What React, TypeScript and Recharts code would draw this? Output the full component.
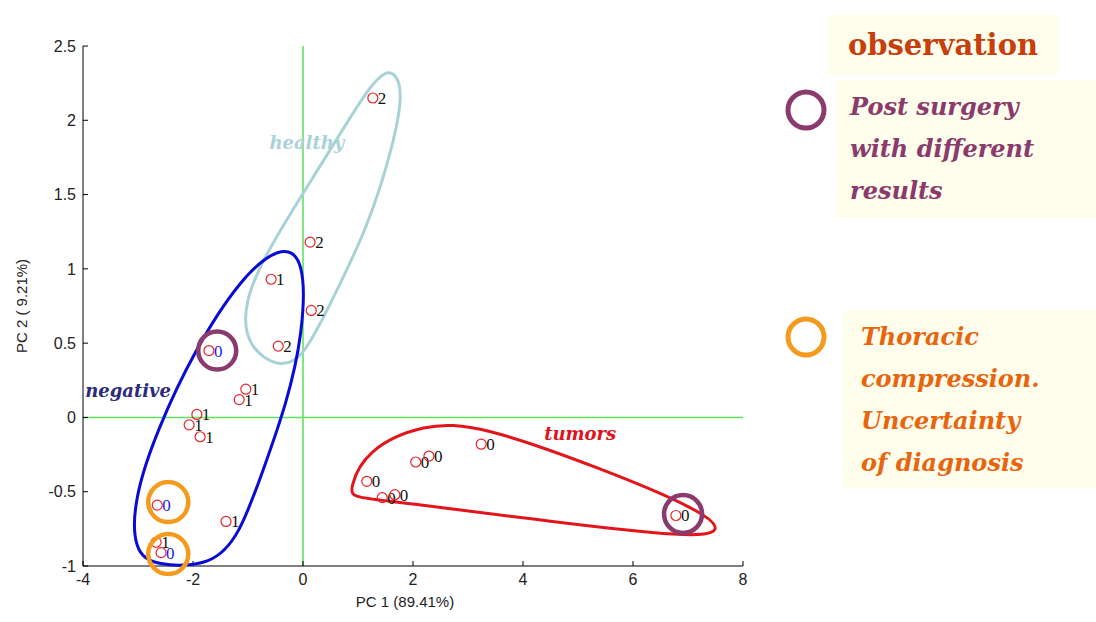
import React from 'react';
import {
  ScatterChart,
  Scatter,
  XAxis,
  YAxis,
  ReferenceLine,
} from 'recharts';

// scores: PC1, PC2, class label
const scores = [
  { x: 1.27, y: 2.15, label: '2', blue: false },
  { x: 0.13, y: 1.18, label: '2', blue: false },
  { x: 0.15, y: 0.72, label: '2', blue: false },
  { x: -0.45, y: 0.48, label: '2', blue: false },
  { x: -0.58, y: 0.93, label: '1', blue: false },
  { x: -1.71, y: 0.45, label: '0', blue: true },
  { x: -1.04, y: 0.19, label: '1', blue: false },
  { x: -1.16, y: 0.12, label: '1', blue: false },
  { x: -1.93, y: 0.02, label: '1', blue: false },
  { x: -2.07, y: -0.05, label: '1', blue: false },
  { x: -1.87, y: -0.13, label: '1', blue: false },
  { x: -2.65, y: -0.59, label: '0', blue: true },
  { x: -1.4, y: -0.7, label: '1', blue: false },
  { x: -2.67, y: -0.84, label: '1', blue: false },
  { x: -2.58, y: -0.91, label: '0', blue: true },
  { x: 1.16, y: -0.43, label: '0', blue: false },
  { x: 1.44, y: -0.54, label: '0', blue: false },
  { x: 1.67, y: -0.52, label: '0', blue: false },
  { x: 2.05, y: -0.3, label: '0', blue: false },
  { x: 2.29, y: -0.26, label: '0', blue: false },
  { x: 3.24, y: -0.18, label: '0', blue: false },
  { x: 6.78, y: -0.66, label: '0', blue: false },
];

// hand-drawn group outlines (control points, data units)
const healthyHull = [
  { x: 1.58, y: 2.37 }, { x: 1.85, y: 2.22 }, { x: 1.62, y: 1.8 },
  { x: 1.18, y: 1.28 }, { x: 0.49, y: 0.76 }, { x: 0, y: 0.4 },
  { x: -0.42, y: 0.33 }, { x: -1.02, y: 0.47 }, { x: -1.1, y: 0.77 },
  { x: -0.6, y: 1.16 }, { x: 0.4, y: 1.74 }, { x: 1.18, y: 2.22 },
];
const negativeHull = [
  { x: -0.42, y: 1.16 }, { x: 0.04, y: 1.08 }, { x: 0, y: 0.56 },
  { x: -0.3, y: 0.09 }, { x: -0.72, y: -0.35 }, { x: -1.15, y: -0.79 },
  { x: -1.65, y: -1.0 }, { x: -2.69, y: -1.0 }, { x: -3.08, y: -0.9 },
  { x: -3.08, y: -0.55 }, { x: -2.65, y: -0.08 }, { x: -1.96, y: 0.46 },
  { x: -1.15, y: 0.93 },
];
const tumorHull = [
  { x: 0.84, y: -0.49 }, { x: 1.13, y: -0.22 }, { x: 2.2, y: -0.04 },
  { x: 3.22, y: -0.05 }, { x: 5.4, y: -0.34 }, { x: 7.22, y: -0.62 },
  { x: 7.67, y: -0.77 }, { x: 7.04, y: -0.81 }, { x: 4.49, y: -0.7 },
  { x: 1.76, y: -0.57 }, { x: 0.92, y: -0.54 },
];

const purpleRings = [
  { x: -1.56, y: 0.45 },
  { x: 6.91, y: -0.65 },
];
const orangeRings = [
  { x: -2.45, y: -0.57 },
  { x: -2.45, y: -0.92 },
];

const groupNames = [
  { x: 0.07, y: 1.84, text: 'healthy', color: '#a9d3d9' },
  { x: -3.18, y: 0.17, text: 'negative', color: '#2c2a7c' },
  { x: 5.04, y: -0.12, text: 'tumors', color: '#e0121c' },
];

const xTicks = [-4, -2, 0, 2, 4, 6, 8];
const yTicks = [-1, -0.5, 0, 0.5, 1, 1.5, 2, 2.5];

const tickFont = { fontFamily: 'Liberation Sans, Arial, sans-serif', fontSize: 16, fill: '#222' };

const Marker = (props: any) => {
  const { cx, cy, payload } = props;
  return (
    <g>
      <circle cx={cx} cy={cy} r={5} fill="none" stroke="#e8232b" strokeWidth={1.2} />
      <text
        x={cx + 5}
        y={cy + 6}
        fontFamily="Liberation Serif, Times New Roman, serif"
        fontSize={17}
        fill={payload.blue ? '#1a1aee' : '#111'}
      >
        {payload.label}
      </text>
    </g>
  );
};

const ring = (color: string, r: number) => (props: any) => (
  <circle cx={props.cx} cy={props.cy} r={r} fill="none" stroke={color} strokeWidth={4.5} />
);

const GroupName = (props: any) => (
  <text
    x={props.cx}
    y={props.cy}
    textAnchor="middle"
    dominantBaseline="middle"
    fontFamily="DejaVu Serif, serif"
    fontStyle="italic"
    fontWeight="bold"
    fontSize={18}
    fill={props.payload.color}
  >
    {props.payload.text}
  </text>
);

const noDot = () => <g />;
const hideTick = () => <g />;

const noteFont = 'DejaVu Serif, Georgia, serif';

export default function App() {
  return (
    <div style={{ position: 'absolute', left: 0, top: 0, width: 1096, height: 622, background: '#fff' }}>
      <ScatterChart
        width={760}
        height={622}
        margin={{ top: 46, right: 17, bottom: 26, left: 23 }}
      >
        <XAxis
          type="number"
          dataKey="x"
          domain={[-4, 8]}
          ticks={xTicks}
          height={30}
          tickSize={-5}
          tickMargin={13}
          tick={tickFont}
          stroke="#000"
          label={{ value: 'PC 1 (89.41%)', position: 'bottom', offset: 0, dx: -8, style: { ...tickFont, fontSize: 15 } }}
        />
        <XAxis
          xAxisId="top"
          orientation="top"
          type="number"
          domain={[-4, 8]}
          ticks={xTicks}
          height={0}
          tickSize={-5}
          tick={hideTick}
          stroke="#000"
          label={{ value: 'Scores Plot', position: 'top', offset: 14, style: { ...tickFont, fontSize: 15 } }}
        />
        <YAxis
          type="number"
          dataKey="y"
          domain={[-1, 2.5]}
          ticks={yTicks}
          width={60}
          tickSize={-5}
          tickMargin={12}
          tick={tickFont}
          stroke="#000"
          label={{ value: 'PC 2 ( 9.21%)', angle: -90, position: 'insideLeft', offset: -1, style: { ...tickFont, fontSize: 15, textAnchor: 'middle' } }}
        />
        <YAxis
          yAxisId="right"
          orientation="right"
          type="number"
          domain={[-1, 2.5]}
          ticks={yTicks}
          width={0}
          tickSize={-5}
          tick={hideTick}
          stroke="#000"
        />
        <ReferenceLine x={0} stroke="#5fe35f" strokeWidth={1.6} />
        <ReferenceLine y={0} stroke="#5fe35f" strokeWidth={1.6} />
        <Scatter
          data={healthyHull}
          shape={noDot}
          line={{ stroke: '#a8d2d8', strokeWidth: 3 }}
          lineJointType="basisClosed"
          isAnimationActive={false}
        />
        <Scatter
          data={negativeHull}
          shape={noDot}
          line={{ stroke: '#0a0ad6', strokeWidth: 3 }}
          lineJointType="basisClosed"
          isAnimationActive={false}
        />
        <Scatter
          data={tumorHull}
          shape={noDot}
          line={{ stroke: '#e3141c', strokeWidth: 3 }}
          lineJointType="basisClosed"
          isAnimationActive={false}
        />
        <Scatter data={groupNames} shape={GroupName} isAnimationActive={false} />
        <Scatter data={scores} shape={Marker} isAnimationActive={false} />
        <Scatter data={purpleRings} shape={ring('#8a3a6c', 19)} isAnimationActive={false} />
        <Scatter data={orangeRings} shape={ring('#f49a1c', 20)} isAnimationActive={false} />
      </ScatterChart>

      <div
        style={{
          position: 'absolute', left: 828, top: 15, width: 230, height: 60,
          background: '#fffdeb', color: '#c63f0c', fontFamily: noteFont,
          fontWeight: 'bold', fontSize: 29, lineHeight: '60px', textAlign: 'center',
        }}
      >
        observation
      </div>

      <svg style={{ position: 'absolute', left: 780, top: 85 }} width={52} height={280}>
        <circle cx={26} cy={25} r={18} fill="none" stroke="#8a3a6c" strokeWidth={5} />
        <circle cx={26} cy={252} r={18} fill="none" stroke="#f49a1c" strokeWidth={5} />
      </svg>

      <div
        style={{
          position: 'absolute', left: 836, top: 80, width: 260, height: 138,
          background: '#fffdeb', color: '#8a3a6c', fontFamily: noteFont,
          fontWeight: 'bold', fontStyle: 'italic', fontSize: 24, lineHeight: '42px',
          paddingLeft: 14, boxSizing: 'border-box', paddingTop: 6,
        }}
      >
        Post surgery<br />with different<br />results
      </div>

      <div
        style={{
          position: 'absolute', left: 843, top: 310, width: 253, height: 178,
          background: '#fffdeb', color: '#e8650f', fontFamily: noteFont,
          fontWeight: 'bold', fontStyle: 'italic', fontSize: 24, lineHeight: '42px',
          paddingLeft: 18, boxSizing: 'border-box', paddingTop: 6,
        }}
      >
        Thoracic<br />compression.<br />Uncertainty<br />of diagnosis
      </div>
    </div>
  );
}
